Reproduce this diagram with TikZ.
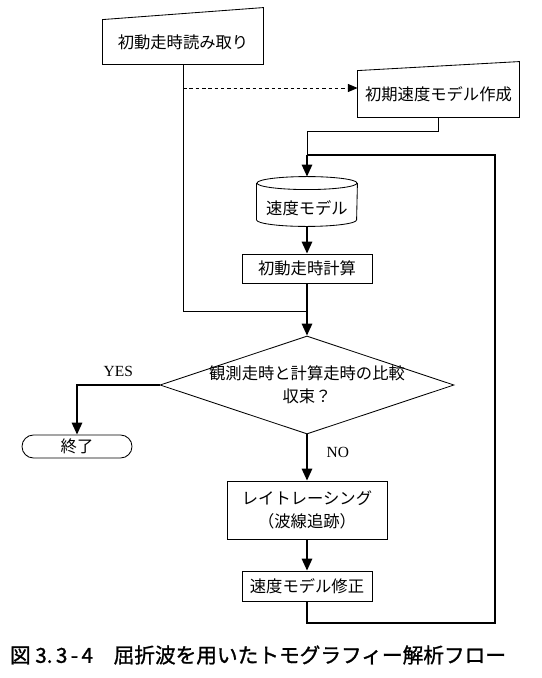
\documentclass[tikz,border=0pt]{standalone}
\usepackage{fontspec}
\setmainfont{Liberation Serif}
\newfontfamily\jpfont{Noto Sans CJK JP}
\newfontfamily\capfont{Noto Sans CJK JP}[FakeBold=1.2]
\usetikzlibrary{arrows.meta,positioning,shapes.geometric,shapes.misc}

\begin{document}
\begin{tikzpicture}[x=0.025cm,y=-0.025cm,
  box/.style={draw,line width=0.6pt,align=center,inner sep=0pt,font=\jpfont\fontsize{11.6}{16.3}\selectfont},
  manual/.style={box,draw=none},
  term/.style={box,rounded rectangle,minimum width=2.75cm,minimum height=0.575cm},
  decide/.style={box,diamond,aspect=3,inner sep=-0.06cm,minimum width=7.35cm,minimum height=2.45cm},
  thin/.style={line width=0.6pt},
  arr/.style={-{Triangle[length=3mm,width=2.6mm]},line width=1.3pt},
  dasharr/.style={-{Triangle[length=2.4mm,width=2mm]},line width=0.6pt,dash pattern=on 2.5pt off 2pt},
  loopline/.style={line width=1.8pt},
  lbl/.style={font=\fontsize{11}{13}\selectfont}]
\useasboundingbox (0,0) rectangle (541,678);
% nodes
\node[manual,minimum width=4cm,minimum height=1.1cm] (read) at (183,42) {初動走時読み取り};
\node[manual,minimum width=4.025cm,minimum height=1.15cm] (init) at (438.5,94) {初期速度モデル作成};
\node[manual,minimum width=2.5cm,minimum height=0.9cm] (vmodel) at (307,208) {速度モデル};
\node[box,minimum width=3.25cm,minimum height=0.725cm] (calc) at (307,268.5) {初動走時計算};
\node[decide] (cmp) at (307,385) {観測走時と計算走時の比較\\収束？};
\node[term] (endn) at (77,446.5) {終了};
\node[box,minimum width=4cm,minimum height=1.45cm] (ray) at (307,510) {レイトレーシング\\（波線追跡）};
\node[box,minimum width=3.25cm,minimum height=0.75cm] (fix) at (307,586) {速度モデル修正};
\node[font=\capfont\fontsize{14.7}{18}\selectfont] (cap) at (258,655) {図 3.\,3\,-\,4\quad 屈折波を用いたトモグラフィー解析フロー};
% outlines of manual input and store
\draw[thin] (read.north west) -- ([yshift=0.3cm]read.north east) -- (read.south east) -- (read.south west) -- cycle;
\draw[thin] (init.north west) -- ([yshift=0.225cm]init.north east) -- (init.south east) -- (init.south west) -- cycle;
\draw[thin] ([yshift=0.1625cm]vmodel.north west) -- ([yshift=0.1625cm]vmodel.south west)
  arc[start angle=180,end angle=360,x radius=1.25cm,y radius=0.1625cm] -- ([yshift=0.1625cm]vmodel.north east);
\draw[thin] ([yshift=0.1625cm]vmodel.north) ellipse[x radius=1.25cm,y radius=0.1625cm];
\coordinate (vtop) at ([yshift=0.325cm]vmodel.north);
% connectors
\coordinate (join) at (307,311);
\coordinate (loopin) at (307,155);
\coordinate (ret) at (495,623);
\coordinate (dtip) at ([yshift=0.15cm]init.west);
\draw[thin] (read.south) |- (join);
\draw[dasharr] (read.south |- dtip) -- (dtip);
\draw[thin] (init.south) -- ++(0,14) -| (loopin);
\draw[loopline] (fix.south) |- (ret) |- (loopin);
\draw[arr] (loopin) -- (vtop);
\draw[arr] (vmodel.south) -- (calc.north);
\draw[arr] (calc.south) -- (cmp.north);
\draw[arr] (cmp.west) -| (endn.north) node[lbl,pos=0.25,above=2pt] {YES};
\draw[arr] (cmp.south) -- (ray.north) node[lbl,pos=0.38,right=10pt] {NO};
\draw[arr] (ray.south) -- (fix.north);
\end{tikzpicture}
\end{document}
